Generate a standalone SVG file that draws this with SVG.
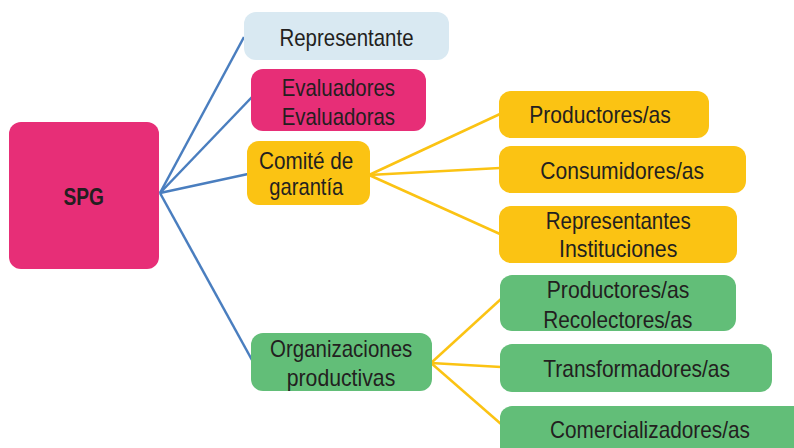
<svg xmlns="http://www.w3.org/2000/svg" width="794" height="448" viewBox="0 0 794 448">
<style>
.t{font-family:"Liberation Sans",Arial,sans-serif;font-size:24px;fill:#231F20}
.b{font-weight:bold}
.blue{stroke:#4A7EBF;stroke-width:2.5;fill:none}
.yel{stroke:#FBC313;stroke-width:2.5;fill:none}
.mag{fill:#E72E77}
.lb{fill:#D9E9F2}
.ye{fill:#FBC313}
.gr{fill:#62BE78}
</style>
<rect width="794" height="448" fill="#FFFFFF"/>
<g id="connectors">
<line class="blue" x1="160" y1="193" x2="244" y2="37"/>
<line class="blue" x1="160" y1="193" x2="252" y2="97"/>
<line class="blue" x1="160" y1="193" x2="248" y2="174"/>
<line class="blue" x1="160" y1="193" x2="252" y2="360"/>
<line class="yel" x1="369" y1="175" x2="500" y2="114"/>
<line class="yel" x1="369" y1="175" x2="500" y2="168"/>
<line class="yel" x1="369" y1="175" x2="500" y2="234"/>
<line class="yel" x1="431" y1="363" x2="501" y2="299"/>
<line class="yel" x1="431" y1="363" x2="501" y2="367"/>
<line class="yel" x1="431" y1="363" x2="501" y2="424"/>
</g>
<g id="spg">
<rect class="mag" x="9" y="122" width="150" height="147" rx="12"/>
<text class="t b" x="63.5" y="204.5" textLength="40.5" lengthAdjust="spacingAndGlyphs">SPG</text>
</g>
<g id="representante">
<rect class="lb" x="244" y="12" width="205" height="48" rx="12"/>
<text class="t" x="279.5" y="46" textLength="134" lengthAdjust="spacingAndGlyphs">Representante</text>
</g>
<g id="evaluadores">
<rect class="mag" x="251" y="69" width="175" height="62" rx="12"/>
<text class="t" x="281.7" y="96" textLength="113.3" lengthAdjust="spacingAndGlyphs">Evaluadores</text>
<text class="t" x="281.7" y="125" textLength="113.3" lengthAdjust="spacingAndGlyphs">Evaluadoras</text>
</g>
<g id="comite">
<rect class="ye" x="247" y="141" width="123" height="64" rx="12"/>
<text class="t" x="259" y="169.3" textLength="94.3" lengthAdjust="spacingAndGlyphs">Comité de</text>
<text class="t" x="269.3" y="195" textLength="74" lengthAdjust="spacingAndGlyphs">garantía</text>
</g>
<g id="productores1">
<rect class="ye" x="499" y="91" width="210" height="47" rx="12"/>
<text class="t" x="529.3" y="123.3" textLength="141.4" lengthAdjust="spacingAndGlyphs">Productores/as</text>
</g>
<g id="consumidores">
<rect class="ye" x="499" y="146" width="247" height="47" rx="12"/>
<text class="t" x="540.3" y="179.3" textLength="163.7" lengthAdjust="spacingAndGlyphs">Consumidores/as</text>
</g>
<g id="representantes">
<rect class="ye" x="499" y="206" width="238" height="57" rx="12"/>
<text class="t" x="545.7" y="229.3" textLength="145" lengthAdjust="spacingAndGlyphs">Representantes</text>
<text class="t" x="559" y="256.7" textLength="118.3" lengthAdjust="spacingAndGlyphs">Instituciones</text>
</g>
<g id="organizaciones">
<rect class="gr" x="251" y="333" width="181" height="58" rx="12"/>
<text class="t" x="270" y="356.7" textLength="142.3" lengthAdjust="spacingAndGlyphs">Organizaciones</text>
<text class="t" x="286.7" y="386" textLength="108.6" lengthAdjust="spacingAndGlyphs">productivas</text>
</g>
<g id="productores2">
<rect class="gr" x="500" y="275" width="236" height="56" rx="12"/>
<text class="t" x="546.7" y="298.3" textLength="142.6" lengthAdjust="spacingAndGlyphs">Productores/as</text>
<text class="t" x="543.3" y="327.7" textLength="149" lengthAdjust="spacingAndGlyphs">Recolectores/as</text>
</g>
<g id="transformadores">
<rect class="gr" x="500" y="344" width="272" height="48" rx="12"/>
<text class="t" x="543.3" y="377.3" textLength="186.7" lengthAdjust="spacingAndGlyphs">Transformadores/as</text>
</g>
<g id="comercializadores">
<rect class="gr" x="500" y="406" width="306" height="60" rx="12"/>
<text class="t" x="550" y="438.3" textLength="200" lengthAdjust="spacingAndGlyphs">Comercializadores/as</text>
</g>
</svg>
